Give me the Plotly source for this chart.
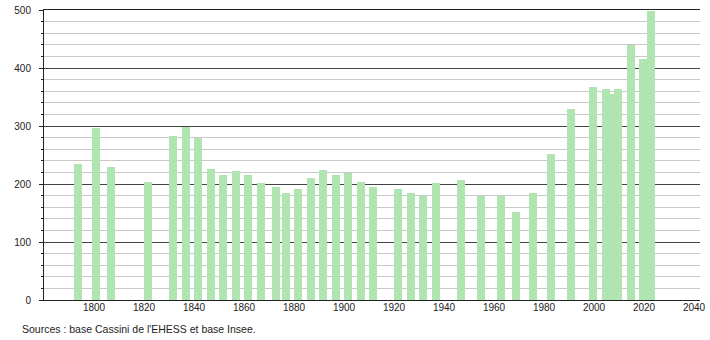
import plotly.graph_objects as go

years = [1793, 1800, 1806, 1821, 1831, 1836, 1841, 1846, 1851, 1856,
         1861, 1866, 1872, 1876, 1881, 1886, 1891, 1896, 1901, 1906,
         1911, 1921, 1926, 1931, 1936, 1946, 1954, 1962, 1968, 1975,
         1982, 1990, 1999, 2004, 2006, 2009, 2014, 2019, 2022]
population = [235, 296, 230, 204, 283, 298, 279, 226, 216, 222,
              215, 202, 195, 184, 192, 211, 224, 216, 219, 203,
              195, 192, 185, 180, 201, 207, 180, 180, 151, 184,
              252, 330, 368, 364, 355, 364, 440, 416, 499]
x_ticks = [1800, 1820, 1840, 1860, 1880, 1900, 1920, 1940, 1960, 1980, 2000, 2020, 2040]
y_ticks = [0, 100, 200, 300, 400, 500]
source_text = "Sources : base Cassini de l'EHESS et base Insee."

fig = go.Figure()
fig.add_trace(go.Bar(
    x=years, y=population,
    width=3.2, offset=-1.0,
    marker=dict(color="rgb(176,228,176)", line=dict(width=0)),
    hoverinfo="x+y",
))

fig.update_layout(
    width=710, height=340,
    margin=dict(l=44, r=10, t=10, b=40, autoexpand=False),
    paper_bgcolor="white", plot_bgcolor="white",
    font=dict(family="Liberation Sans, Arial, sans-serif", size=10, color="#222"),
    showlegend=False,
    bargap=0,
    xaxis=dict(
        range=[1780, 2042.4],
        tickvals=x_ticks, ticktext=[str(v) for v in x_ticks],
        showgrid=False, zeroline=False,
        showline=True, linecolor="#222", linewidth=1,
        mirror=True,
        ticks="", tickfont=dict(size=10, color="#222"),
        ticklabelstandoff=-2,
        automargin=False,
    ),
    yaxis=dict(
        range=[0, 500],
        tickvals=y_ticks,
        showgrid=True, gridcolor="#444", gridwidth=1,
        zeroline=False,
        showline=True, linecolor="#222", linewidth=1,
        ticks="outside", ticklen=4, tickcolor="#222",
        tickfont=dict(size=10, color="#222"),
        ticklabelstandoff=6,
        minor=dict(dtick=20, showgrid=True, gridcolor="#c8c8c8", gridwidth=1,
                   ticks="outside", ticklen=2, tickcolor="#222"),
        layer="below traces",
        automargin=False,
    ),
    annotations=[dict(
        text=source_text, xref="paper", yref="paper",
        x=-0.0366, y=-0.1, xanchor="left", yanchor="middle",
        showarrow=False, font=dict(size=10.5, color="#222"),
    )],
)

fig.write_html("out.html")
